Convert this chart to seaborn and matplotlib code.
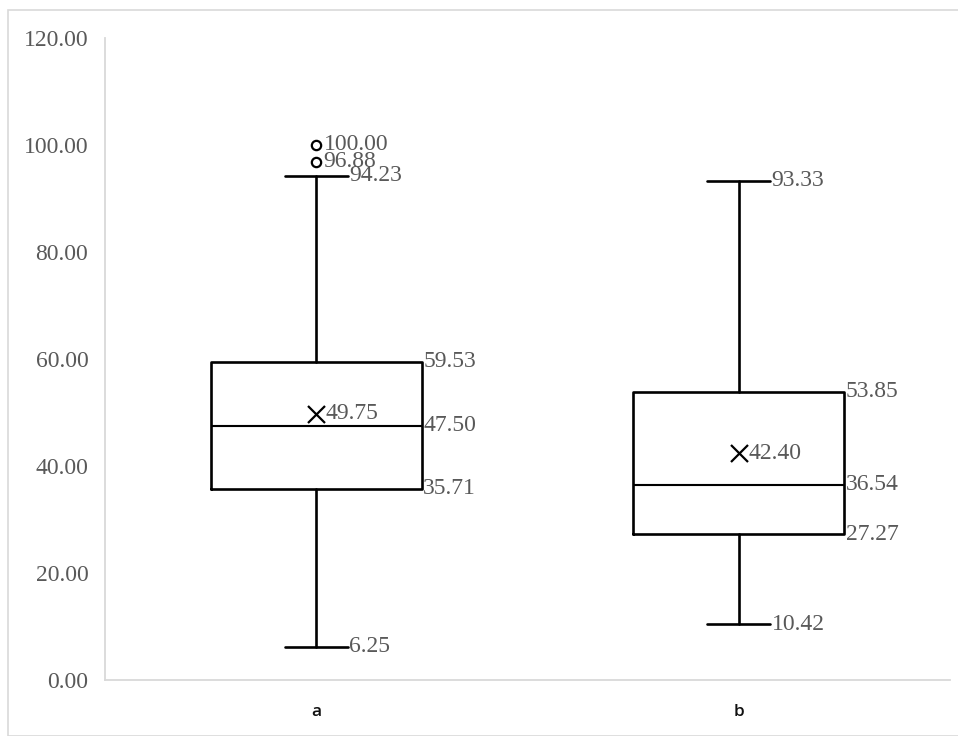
import matplotlib
matplotlib.use("Agg")
import matplotlib.pyplot as plt
import seaborn as sns
import pandas as pd
from matplotlib.patches import Rectangle

categories = ["a", "b"]
whisker_low = [6.25, 10.42]
q1 = [35.71, 27.27]
median = [47.50, 36.54]
q3 = [59.53, 53.85]
whisker_high = [94.23, 93.33]
means = [49.75, 42.40]
outliers = [[96.88, 100.00], []]
y_ticks = [0, 20, 40, 60, 80, 100, 120]

sns.set_theme(style="white")
plt.rcParams["font.family"] = ["Liberation Serif", "DejaVu Serif"]

fig = plt.figure(figsize=(9.58, 7.36), dpi=100)
ax = fig.add_axes([105/958, 1-680/736, 845/958, 642/736])

positions = list(range(len(categories)))
stats = []
for i, c in enumerate(categories):
    stats.append(dict(label=c, whislo=whisker_low[i], q1=q1[i], med=median[i],
                      q3=q3[i], whishi=whisker_high[i], mean=means[i], fliers=[]))

lw = 1.9
ax.bxp(stats, positions=positions, widths=0.5, showfliers=False, showmeans=False,
       patch_artist=False,
       boxprops=dict(color="black", linewidth=lw),
       medianprops=dict(color="black", linewidth=lw * 0.8),
       whiskerprops=dict(color="black", linewidth=lw),
       capprops=dict(color="black", linewidth=lw),
       capwidths=0.15)

mean_df = pd.DataFrame({"pos": positions, "mean": means})
sns.scatterplot(data=mean_df, x="pos", y="mean", marker="x", s=150, color="black",
                linewidth=1.6, ax=ax, zorder=5)

out_pos, out_val = [], []
for i, vals in enumerate(outliers):
    for v in vals:
        out_pos.append(positions[i])
        out_val.append(v)
out_df = pd.DataFrame({"pos": out_pos, "val": out_val})
sns.scatterplot(data=out_df, x="pos", y="val", marker="o", s=45, facecolor="white",
                edgecolor="black", linewidth=1.6, ax=ax, zorder=5)

label_color = "#595959"
fs = 17
half_box = 0.25
half_cap = 0.075
for i, p in enumerate(positions):
    for v in (q1[i], median[i], q3[i]):
        ax.text(p + half_box + 0.003, v, f"{v:.2f}", ha="left", va="center",
                fontsize=fs, color=label_color)
    for v in (whisker_low[i], whisker_high[i]):
        ax.text(p + half_cap + 0.003, v, f"{v:.2f}", ha="left", va="center",
                fontsize=fs, color=label_color)
    ax.text(p + 0.022, means[i], f"{means[i]:.2f}", ha="left", va="center",
            fontsize=fs, color=label_color)
    for v in outliers[i]:
        ax.text(p + 0.017, v, f"{v:.2f}", ha="left", va="center",
                fontsize=fs, color=label_color)

ax.set_xlim(-0.5, 1.5)
ax.set_ylim(0, 120)
ax.set_yticks(y_ticks)
ax.set_yticklabels([f"{t:.2f}" for t in y_ticks], fontsize=fs, color=label_color)
ax.set_xticks(positions)
ax.set_xticklabels(categories, fontsize=12.5, color="#111111", family="Open Sans",
                   fontweight="semibold")
ax.tick_params(axis="y", length=0, pad=12)
ax.tick_params(axis="x", length=0, pad=17)
ax.set_xlabel("")
ax.set_ylabel("")
for s in ("top", "right"):
    ax.spines[s].set_visible(False)
for s in ("left", "bottom"):
    ax.spines[s].set_color("#d9d9d9")
    ax.spines[s].set_linewidth(1.3)
ax.grid(False)

fig.patches.append(Rectangle((8/958, 0), 1 - 8/958 + 0.01, 1 - 10/736, transform=fig.transFigure,
                             fill=False, edgecolor="#d9d9d9", linewidth=1.2, zorder=0))

fig.savefig("out.png", dpi=100)
